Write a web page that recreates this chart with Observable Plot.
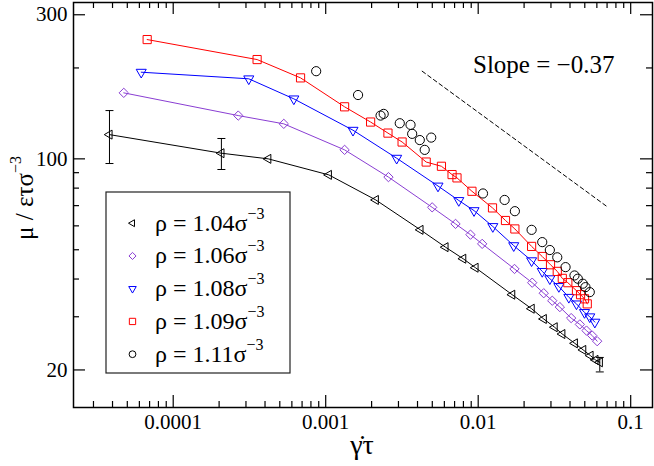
<!DOCTYPE html>
<html><head><meta charset="utf-8">
<script src="https://cdn.jsdelivr.net/npm/d3@7"></script>
<script src="https://cdn.jsdelivr.net/npm/@observablehq/plot@0.6"></script>
<style>
body{margin:0;background:#fff}
#chart{position:relative;width:654px;height:466px}
#chart svg{position:absolute;left:0;top:0}
#chart svg, #chart svg text{font-family:'Liberation Serif','Times New Roman','DejaVu Serif',serif !important}
</style>
</head><body><div id="chart"></div>
<script>
// ---- data ----
const rate104 = [3.82e-5, 2.07e-4, 4.20e-4, 1.048e-3, 2.13e-3, 4.18e-3, 6.10e-3, 7.97e-3, 9.60e-3, 0.0167, 0.0224, 0.0269, 0.0317, 0.0356, 0.0430, 0.0488, 0.0545, 0.0587, 0.0627];
const mu104   = [120.3, 104.4, 100.0, 88.5, 73.1, 58.2, 51.0, 46.7, 43.6, 35.5, 31.9, 29.5, 27.7, 26.3, 24.5, 23.3, 22.3, 21.6, 21.2];
const err104X  = [3.82e-5, 2.07e-4, 0.0627];
const err104Lo = [96.5, 92.2, 19.7];
const err104Hi = [144.5, 116.8, 22.0];

const rate106 = [4.74e-5, 2.67e-4, 5.31e-4, 1.33e-3, 2.58e-3, 4.99e-3, 7.10e-3, 8.90e-3, 0.01062, 0.0173, 0.0226, 0.0269, 0.0306, 0.0343, 0.0407, 0.0464, 0.0513, 0.0559, 0.0603];
const mu106   = [165.4, 139.1, 130.6, 107.1, 87.0, 69.1, 60.9, 56.1, 52.3, 43.2, 38.9, 35.9, 33.9, 32.3, 29.7, 28.3, 27.0, 26.0, 24.9];

const rate108 = [6.17e-5, 3.13e-4, 6.18e-4, 1.51e-3, 2.92e-3, 5.45e-3, 7.46e-3, 9.39e-3, 0.01247, 0.0171, 0.0224, 0.0263, 0.0295, 0.0338, 0.0393, 0.0441, 0.0498, 0.0539, 0.0582];
const mu108   = [193.6, 184.1, 158.0, 124.4, 100.5, 81.3, 72.8, 67.4, 59.7, 51.6, 46.0, 42.4, 40.1, 37.8, 34.8, 33.1, 31.0, 30.0, 28.8];

const rate109 = [6.75e-5, 3.55e-4, 6.84e-4, 1.33e-3, 1.97e-3, 2.56e-3, 3.17e-3, 4.56e-3, 5.74e-3, 6.74e-3, 7.26e-3, 9.10e-3, 0.01241, 0.0151, 0.0174, 0.0224, 0.0263, 0.0298, 0.0330, 0.0356, 0.0387, 0.0441, 0.0469, 0.0498, 0.0519];
const mu109   = [248.3, 213.2, 185.4, 148.7, 132.4, 121.7, 113.7, 97.6, 94.5, 88.7, 86.5, 78.1, 68.8, 62.5, 58.6, 51.3, 47.5, 44.6, 42.4, 40.2, 38.9, 36.6, 35.5, 34.4, 33.1];

const rate111 = [8.66e-4, 1.63e-3, 2.29e-3, 2.40e-3, 3.06e-3, 3.60e-3, 3.69e-3, 4.14e-3, 4.92e-3, 4.46e-3, 0.01075, 0.0149, 0.0174, 0.0224, 0.0263, 0.0295, 0.0330, 0.0374, 0.0428, 0.0450, 0.0485, 0.0505, 0.0539];
const mu111   = [195.1, 162.7, 139.1, 140.9, 131.2, 129.6, 121.0, 115.4, 117.6, 107.1, 76.8, 73.1, 67.1, 58.2, 53.0, 49.9, 47.2, 43.8, 41.1, 40.1, 38.6, 37.6, 36.2];

const slopeX = [4.29e-3, 0.0694];
const slopeY = [195.1, 69.7];

const densityLabels = ["1.04", "1.06", "1.08", "1.09", "1.11"];
const xMajorTicks = [1e-4, 1e-3, 1e-2, 1e-1];
const xTickLabels = ["0.0001", "0.001", "0.01", "0.1"];
const yMajorTicks = [20, 100, 300];
const yTickLabels = ["20", "100", "300"];
const yMinorTicks = [30, 40, 50, 60, 70, 80, 90, 200];
const xDecades = [1e-5, 1e-4, 1e-3, 1e-2];
const minorMult = [2, 3, 4, 5, 6, 7, 8, 9];
const xDomain = [2.219e-5, 0.139];
const yDomain = [15.02, 329.4];

// ---- symbols ----
const triLeft = {draw(c, size){ const s=Math.sqrt(size)*0.6824, t=s/2, u=s*Math.sqrt(3)/2; c.moveTo(-s,0); c.lineTo(t,-u); c.lineTo(t,u); c.closePath(); }};
const triDown = {draw(c, size){ const s=Math.sqrt(size)*0.6824, t=s/2, u=s*Math.sqrt(3)/2; c.moveTo(0,s); c.lineTo(u,-t); c.lineTo(-u,-t); c.closePath(); }};
const capSym  = {draw(c, size){ const w=Math.sqrt(size)/2; c.moveTo(-w,0); c.lineTo(w,0); }};

const purple = "#8a3ed3";
const series = [
  {xs: rate104, ys: mu104, color: "#000000", symbol: triLeft, r: 4.3, r2: 3.3, line: true},
  {xs: rate106, ys: mu106, color: purple, symbol: "diamond2", r: 4.2, r2: 3.2, line: true},
  {xs: rate108, ys: mu108, color: "#0000ff", symbol: triDown, r: 4.8, r2: 3.6, line: true},
  {xs: rate109, ys: mu109, color: "#ff0000", symbol: "square2", r: 5.2, r2: 4.0, line: true},
  {xs: rate111, ys: mu111, color: "#000000", symbol: "circle", r: 4.6, r2: 3.4, line: false}
];

const W = 654, H = 466, mL = 73, mR = 2, mT = 2, mB = 59;
const fw = W - mL - mR, fh = H - mT - mB;
const xMinorTicks = xDecades.flatMap(d => minorMult.map(m => d * m)).filter(v => v > xDomain[0] && v < xDomain[1]);
const SERIF = "'Liberation Serif','Times New Roman','DejaVu Serif',serif";

const marks = [
  Plot.ruleX(xMajorTicks, {x: d => d, insetTop: fh - 12, strokeWidth: 1.2}),
  Plot.ruleX(xMajorTicks, {x: d => d, insetBottom: fh - 12, strokeWidth: 1.2}),
  Plot.ruleX(xMinorTicks, {x: d => d, insetTop: fh - 6, strokeWidth: 1.2}),
  Plot.ruleX(xMinorTicks, {x: d => d, insetBottom: fh - 6, strokeWidth: 1.2}),
  Plot.ruleY(yMajorTicks, {y: d => d, insetRight: fw - 12, strokeWidth: 1.2}),
  Plot.ruleY(yMajorTicks, {y: d => d, insetLeft: fw - 12, strokeWidth: 1.2}),
  Plot.ruleY(yMinorTicks, {y: d => d, insetRight: fw - 6, strokeWidth: 1.2}),
  Plot.ruleY(yMinorTicks, {y: d => d, insetLeft: fw - 6, strokeWidth: 1.2}),
  Plot.axisX({ticks: xMajorTicks, tickSize: 0, tickPadding: 7, label: null, fontSize: 21, fontFamily: SERIF,
    tickFormat: d => xTickLabels[xMajorTicks.indexOf(d)]}),
  Plot.axisY({ticks: yMajorTicks, tickSize: 0, tickPadding: 6, label: null, fontSize: 21, fontFamily: SERIF,
    tickFormat: d => yTickLabels[yMajorTicks.indexOf(d)]}),
  Plot.line(slopeX.map((x, i) => ({x, y: slopeY[i]})), {x: "x", y: "y", stroke: "black", strokeWidth: 1, strokeDasharray: "4,3"})
];
series.forEach(s => {
  const rows = s.xs.map((x, i) => ({x, y: s.ys[i]}));
  if (s.line) marks.push(Plot.line(rows, {x: "x", y: "y", stroke: s.color, strokeWidth: 1}));
  marks.push(Plot.dot(rows, {x: "x", y: "y", symbol: () => s.symbol, r: s.r, stroke: s.color, fill: "none", strokeWidth: 1}));
});
const errRows = err104X.map((x, i) => ({x, lo: err104Lo[i], hi: err104Hi[i]}));
marks.push(Plot.ruleX(errRows, {x: "x", y1: "lo", y2: "hi", stroke: "black", strokeWidth: 1}));
marks.push(Plot.dot(errRows, {x: "x", y: "lo", symbol: () => capSym, r: 4.5, stroke: "black", strokeWidth: 1}));
marks.push(Plot.dot(errRows, {x: "x", y: "hi", symbol: () => capSym, r: 4.5, stroke: "black", strokeWidth: 1}));
marks.push(Plot.frame({stroke: "black", strokeWidth: 1.5}));

const chart = Plot.plot({
  width: W, height: H, marginLeft: mL, marginRight: mR, marginTop: mT, marginBottom: mB,
  style: {fontFamily: SERIF, fontSize: "21px", background: "white", color: "black"},
  x: {type: "log", domain: xDomain},
  y: {type: "log", domain: yDomain},
  symbol: {type: "identity"},
  marks
});
document.getElementById("chart").appendChild(chart);

// ---- overlay: legend, labels, annotation ----
const ov = d3.select("#chart").append("svg").attr("width", W).attr("height", H)
  .attr("font-family", SERIF).style("pointer-events", "none");

ov.append("rect").attr("x", 106).attr("y", 192).attr("width", 184).attr("height", 181)
  .attr("fill", "white").attr("stroke", "#222").attr("stroke-width", 1.2);

const symType = s => typeof s.symbol === "string"
  ? ({diamond2: d3.symbolDiamond2, square2: d3.symbolSquare2, circle: d3.symbolCircle})[s.symbol] : s.symbol;
series.forEach((s, i) => {
  const base = 230.7 + i * 32.75;
  ov.append("path").attr("d", d3.symbol().type(symType(s)).size(Math.PI * s.r2 * s.r2)())
    .attr("transform", `translate(132.5,${base - 7.5})`).attr("fill", "none").attr("stroke", s.color).attr("stroke-width", 1);
  const t = ov.append("text").attr("x", 155).attr("y", base).attr("font-size", 24).attr("fill", "black");
  t.append("tspan").text(`ρ = ${densityLabels[i]}σ`);
  t.append("tspan").attr("dy", -12).attr("font-size", 16).text("−3");
});

ov.append("text").attr("x", 473).attr("y", 73).attr("font-size", 25).text("Slope = −0.37");

const yl = ov.append("text").attr("transform", "translate(33,198) rotate(-90)").attr("text-anchor", "middle").attr("font-size", 25);
yl.append("tspan").text("μ / ετσ");
yl.append("tspan").attr("dy", -12).attr("font-size", 16).text("−3");

ov.append("text").attr("x", 362).attr("y", 454).attr("text-anchor", "middle").attr("font-size", 28).text("γ\u0307τ");
</script>
</body></html>
